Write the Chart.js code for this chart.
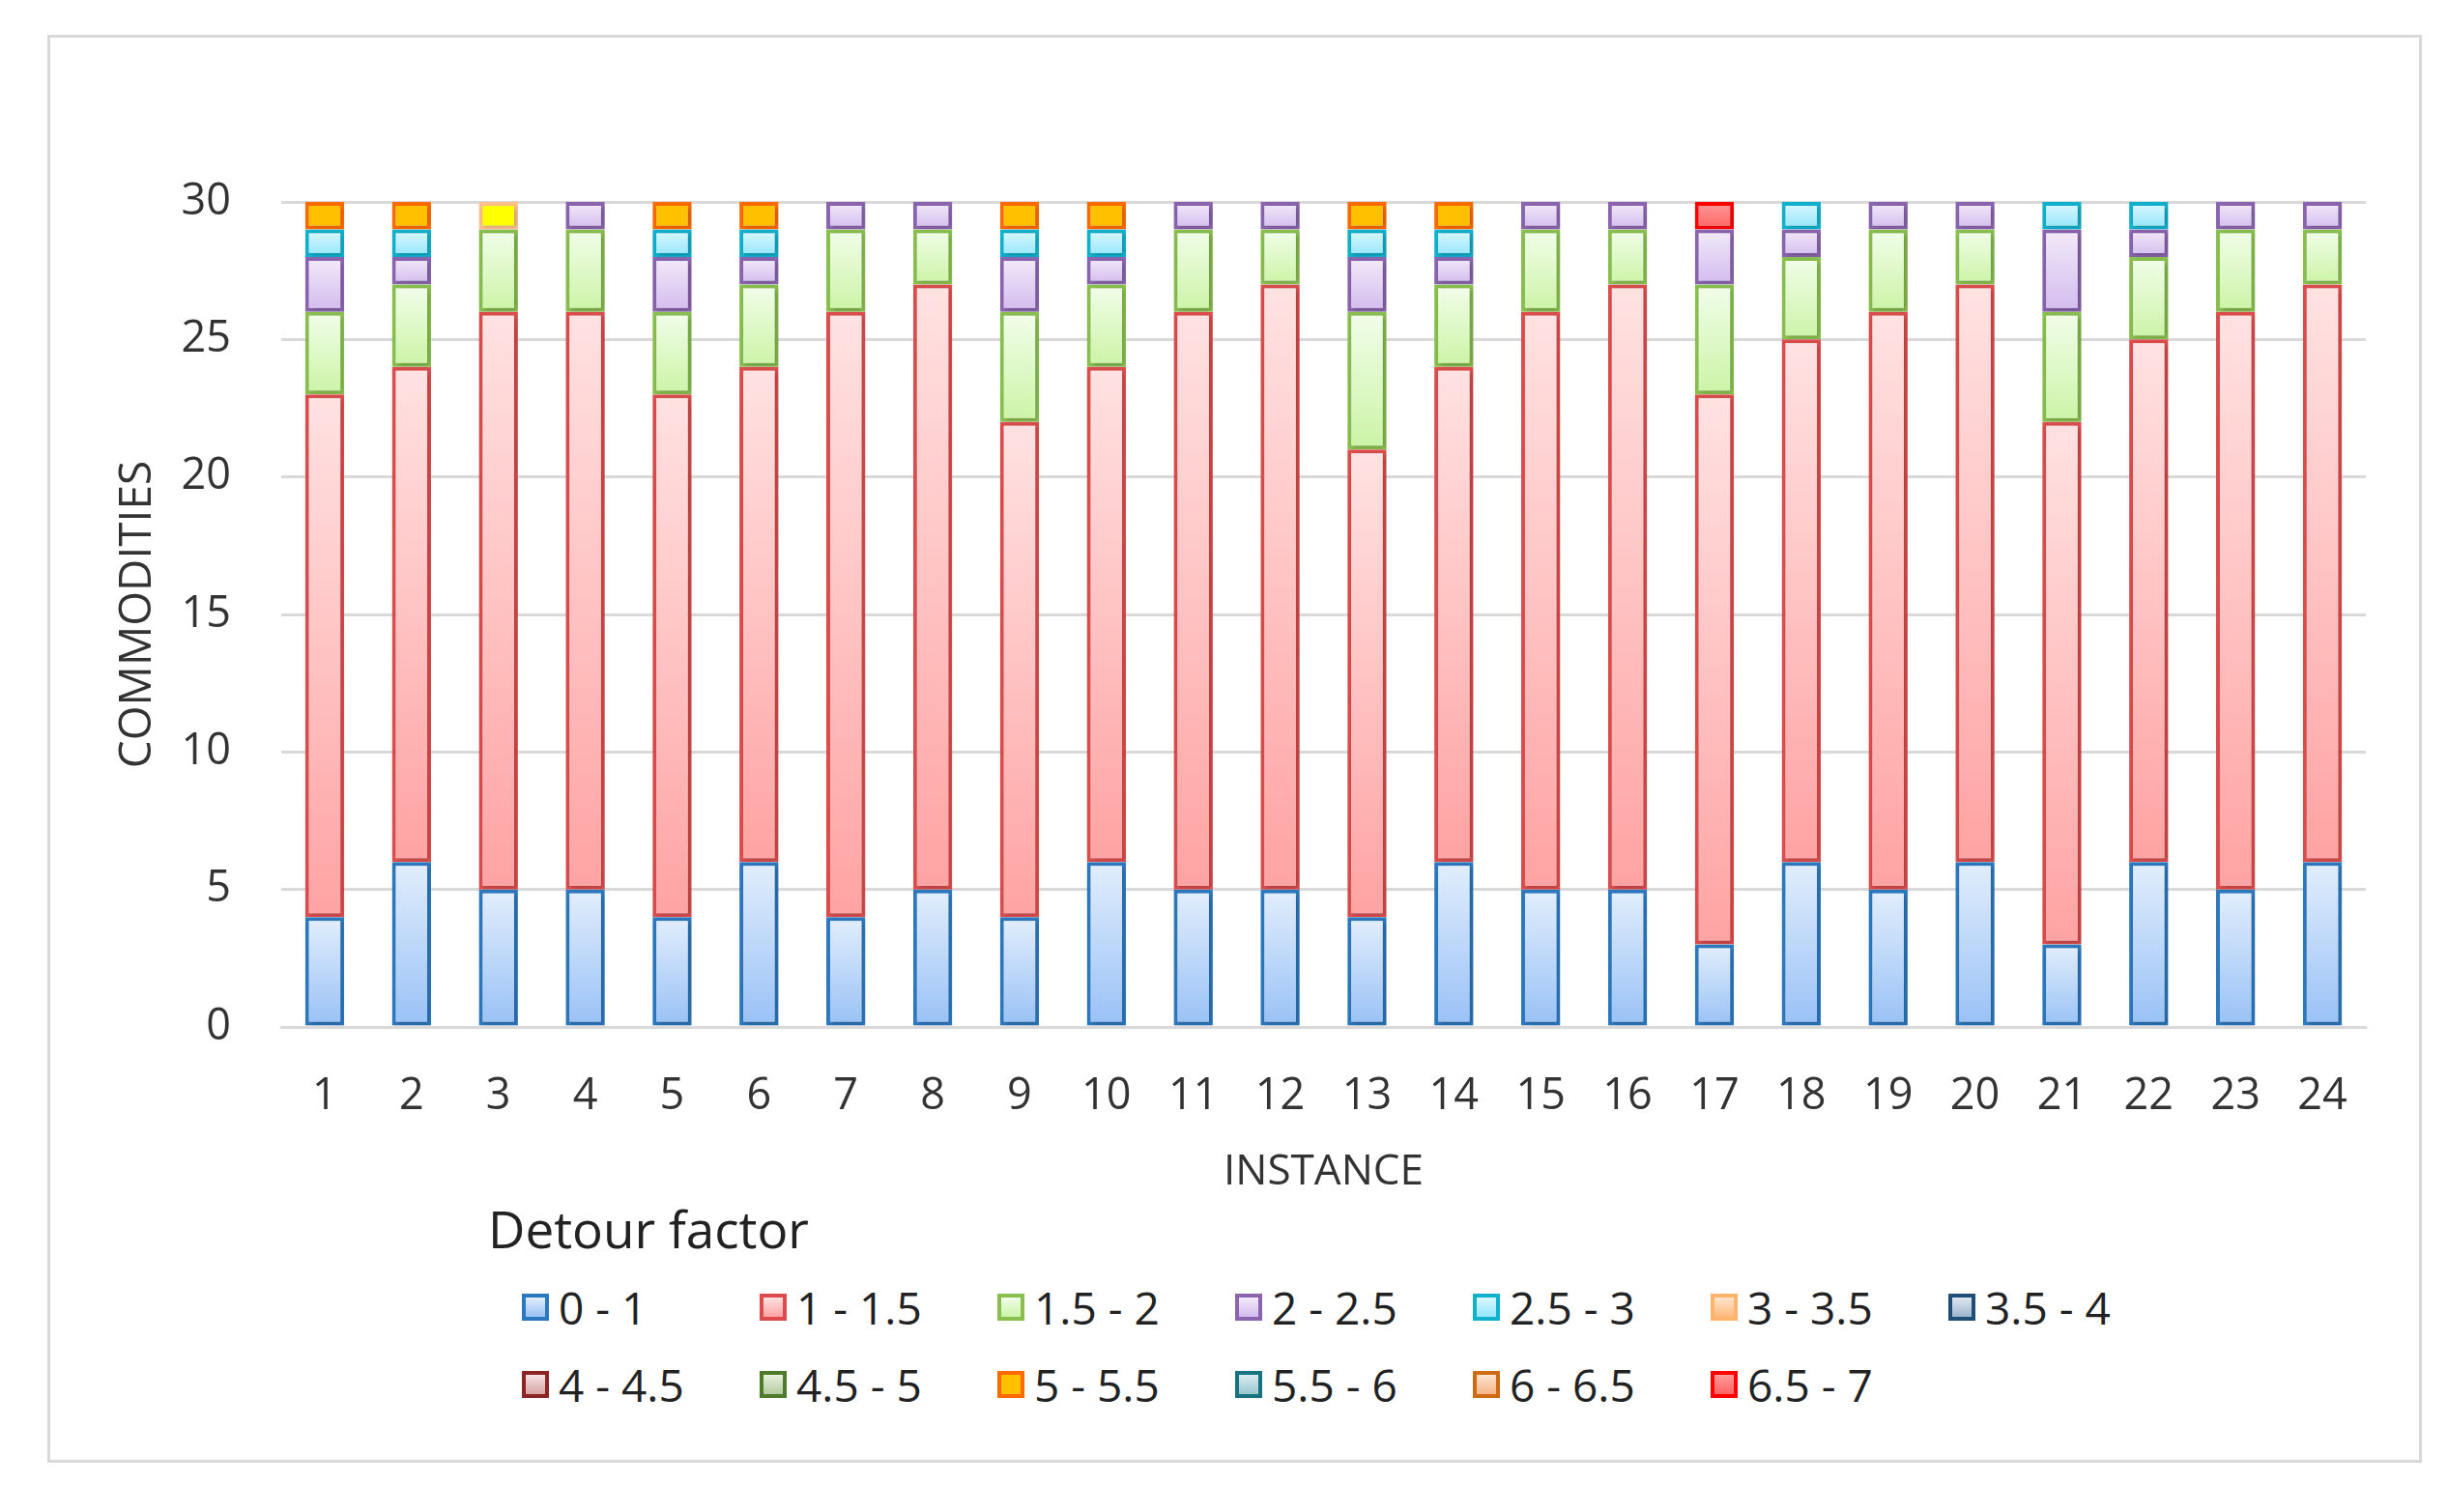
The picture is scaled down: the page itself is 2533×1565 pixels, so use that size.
<!DOCTYPE html>
<html>
<head>
<meta charset="utf-8">
<script src="https://cdn.jsdelivr.net/npm/chart.js@4.4.1/dist/chart.umd.min.js"></script>
<style>
  html, body { margin: 0; padding: 0; background: #fff; }
  body { width: 2533px; height: 1565px; position: relative; overflow: hidden; font-family: 'Open Sans', sans-serif; }
  #frame { position: absolute; left: 49px; top: 36px; width: 2457px; height: 1478px; border: 3px solid #d9d9d9; box-sizing: border-box; }
  #chartBox { position: absolute; left: 49px; top: 36px; width: 2457px; height: 1214px; }
  #legendTitle { position: absolute; left: 505px; top: 1240px; font-size: 53px; line-height: 64px; color: #222; }
  #legend { position: absolute; left: 540px; top: 1326px; display: grid; grid-template-columns: repeat(7, 246px); grid-auto-rows: 80px; }
  .item { display: flex; align-items: center; height: 54px; font-size: 46px; color: #222; white-space: nowrap; }
  .sw { width: 28px; height: 28px; box-sizing: border-box; border: 4px solid; margin-right: 10px; }
</style>
</head>
<body>
<div id="frame"></div>
<div id="chartBox"><canvas id="chart"></canvas></div>
<div id="legendTitle">Detour factor</div>
<div id="legend"></div>
<script>
const instances = ['1','2','3','4','5','6','7','8','9','10','11','12','13','14','15','16','17','18','19','20','21','22','23','24'];
const yTicks = [0, 5, 10, 15, 20, 25, 30];
const factorLabels = ['0 - 1','1 - 1.5','1.5 - 2','2 - 2.5','2.5 - 3','3 - 3.5','3.5 - 4','4 - 4.5','4.5 - 5','5 - 5.5','5.5 - 6','6 - 6.5','6.5 - 7'];

const f0_1   = [4,6,5,5,4,6,4,5,4,6,5,5,4,6,5,5,3,6,5,6,3,6,5,6];
const f1_15  = [19,18,21,21,19,18,22,22,18,18,21,22,17,18,21,22,20,19,21,21,19,19,21,21];
const f15_2  = [3,3,3,3,3,3,3,2,4,3,3,2,5,3,3,2,4,3,3,2,4,3,3,2];
const f2_25  = [2,1,0,1,2,1,1,1,2,1,1,1,2,1,1,1,2,1,1,1,3,1,1,1];
const f25_3  = [1,1,0,0,1,1,0,0,1,1,0,0,1,1,0,0,0,1,0,0,1,1,0,0];
const f3_35  = [0,0,1,0,0,0,0,0,0,0,0,0,0,0,0,0,0,0,0,0,0,0,0,0];
const f35_4  = [0,0,0,0,0,0,0,0,0,0,0,0,0,0,0,0,0,0,0,0,0,0,0,0];
const f4_45  = [0,0,0,0,0,0,0,0,0,0,0,0,0,0,0,0,0,0,0,0,0,0,0,0];
const f45_5  = [0,0,0,0,0,0,0,0,0,0,0,0,0,0,0,0,0,0,0,0,0,0,0,0];
const f5_55  = [1,1,0,0,1,1,0,0,1,1,0,0,1,1,0,0,0,0,0,0,0,0,0,0];
const f55_6  = [0,0,0,0,0,0,0,0,0,0,0,0,0,0,0,0,0,0,0,0,0,0,0,0];
const f6_65  = [0,0,0,0,0,0,0,0,0,0,0,0,0,0,0,0,0,0,0,0,0,0,0,0];
const f65_7  = [0,0,0,0,0,0,0,0,0,0,0,0,0,0,0,0,1,0,0,0,0,0,0,0];

const seriesValues = [f0_1, f1_15, f15_2, f2_25, f25_3, f3_35, f35_4, f4_45, f45_5, f5_55, f55_6, f6_65, f65_7];

// [gradient top, gradient bottom, border]
const palette = [
    ['#e2eefc', '#98c1f6', '#2c78bf'],
    ['#ffe2e2', '#ffa3a3', '#dc4c4c'],
    ['#f2fdea', '#cbf4a6', '#88bf4e'],
    ['#f3ebf9', '#d2bbee', '#8a64ae'],
    ['#dcf9ff', '#93e5fa', '#10b1cd'],
    ['#ffe6cf', '#ffb878', '#ffb46e'],
    ['#dfe8f1', '#9db3cb', '#1f4e79'],
    ['#f7e4e4', '#d7a2a2', '#8b2424'],
    ['#e8f1de', '#b4caa0', '#4e7a2c'],
    ['#ffc000', '#ffc000', '#ff6a00'],
    ['#d9ecf0', '#9ac6d0', '#17747f'],
    ['#fde3d0', '#f6b58a', '#cf6a14'],
    ['#ff9a9a', '#ff6464', '#ff0000']
];
// bar 3 top segment is drawn plain yellow in the source
const oddFill = { series: 5, index: 2, fill: '#ffff00', border: '#ffc08c' };

const FONT = "'Open Sans', sans-serif";

function segFill(c, s) {
    const col = palette[s];
    if (c.type !== 'data') return col[0];
    if (s === oddFill.series && c.dataIndex === oddFill.index) return oddFill.fill;
    const chart = c.chart;
    const y = chart.scales.y;
    if (!chart.chartArea || !y) return col[0];
    let base = 0;
    for (let k = 0; k < s; k++) base += seriesValues[k][c.dataIndex];
    const top = base + seriesValues[s][c.dataIndex];
    const g = chart.ctx.createLinearGradient(0, y.getPixelForValue(top), 0, y.getPixelForValue(base));
    g.addColorStop(0, col[0]);
    g.addColorStop(1, col[1]);
    return g;
}

const datasets = seriesValues.map((vals, s) => ({
    label: factorLabels[s],
    data: vals.map(v => v === 0 ? null : v),
    backgroundColor: (c) => segFill(c, s),
    borderColor: (c) => (c.type === 'data' && s === oddFill.series && c.dataIndex === oddFill.index) ? oddFill.border : palette[s][2],
    borderWidth: 4,
    borderSkipped: false,
    barPercentage: 0.45,
    categoryPercentage: 1.0
}));

const shadowPlugin = {
    id: 'barShadow',
    beforeDatasetsDraw(chart) {
        const ctx = chart.ctx;
        ctx.save();
        ctx.shadowColor = 'rgba(0,0,0,0.22)';
        ctx.shadowBlur = 5;
        ctx.shadowOffsetX = 2;
        ctx.shadowOffsetY = 2;
    },
    afterDatasetsDraw(chart) {
        chart.ctx.restore();
    }
};

const chart = new Chart(document.getElementById('chart').getContext('2d'), {
    type: 'bar',
    data: { labels: instances, datasets: datasets },
    plugins: [shadowPlugin],
    options: {
        responsive: true,
        maintainAspectRatio: false,
        animation: false,
        layout: { padding: { top: 173, right: 58, left: 0, bottom: 0 } },
        plugins: {
            legend: { display: false },
            tooltip: { enabled: false }
        },
        scales: {
            x: {
                stacked: true,
                grid: { display: false },
                border: { color: '#d9d9d9', width: 3 },
                ticks: { color: '#333', font: { family: FONT, size: 45 }, padding: 37 },
                title: { display: true, text: 'INSTANCE', color: '#333', font: { family: FONT, size: 44 }, padding: { top: 0, bottom: 10 } },
                afterFit: (s) => { s.height = 187; }
            },
            y: {
                stacked: true,
                min: 0,
                max: 30,
                afterBuildTicks: (s) => { s.ticks = yTicks.map(v => ({ value: v })); },
                grid: { color: '#d9d9d9', lineWidth: 3, drawTicks: false },
                border: { display: false },
                ticks: { color: '#333', font: { family: FONT, size: 45 }, padding: 52 },
                title: { display: true, text: 'COMMODITIES', color: '#333', font: { family: FONT, size: 46 }, padding: { top: 66, bottom: 0 } },
                afterFit: (s) => { s.width = 242; }
            }
        }
    }
});

// html legend built from the chart's datasets
const legendEl = document.getElementById('legend');
chart.data.datasets.forEach((ds, s) => {
    const item = document.createElement('div');
    item.className = 'item';
    const sw = document.createElement('span');
    sw.className = 'sw';
    sw.style.borderColor = palette[s][2];
    sw.style.background = 'linear-gradient(' + palette[s][0] + ', ' + palette[s][1] + ')';
    const txt = document.createElement('span');
    txt.textContent = ds.label;
    item.appendChild(sw);
    item.appendChild(txt);
    legendEl.appendChild(item);
});
</script>
</body>
</html>
